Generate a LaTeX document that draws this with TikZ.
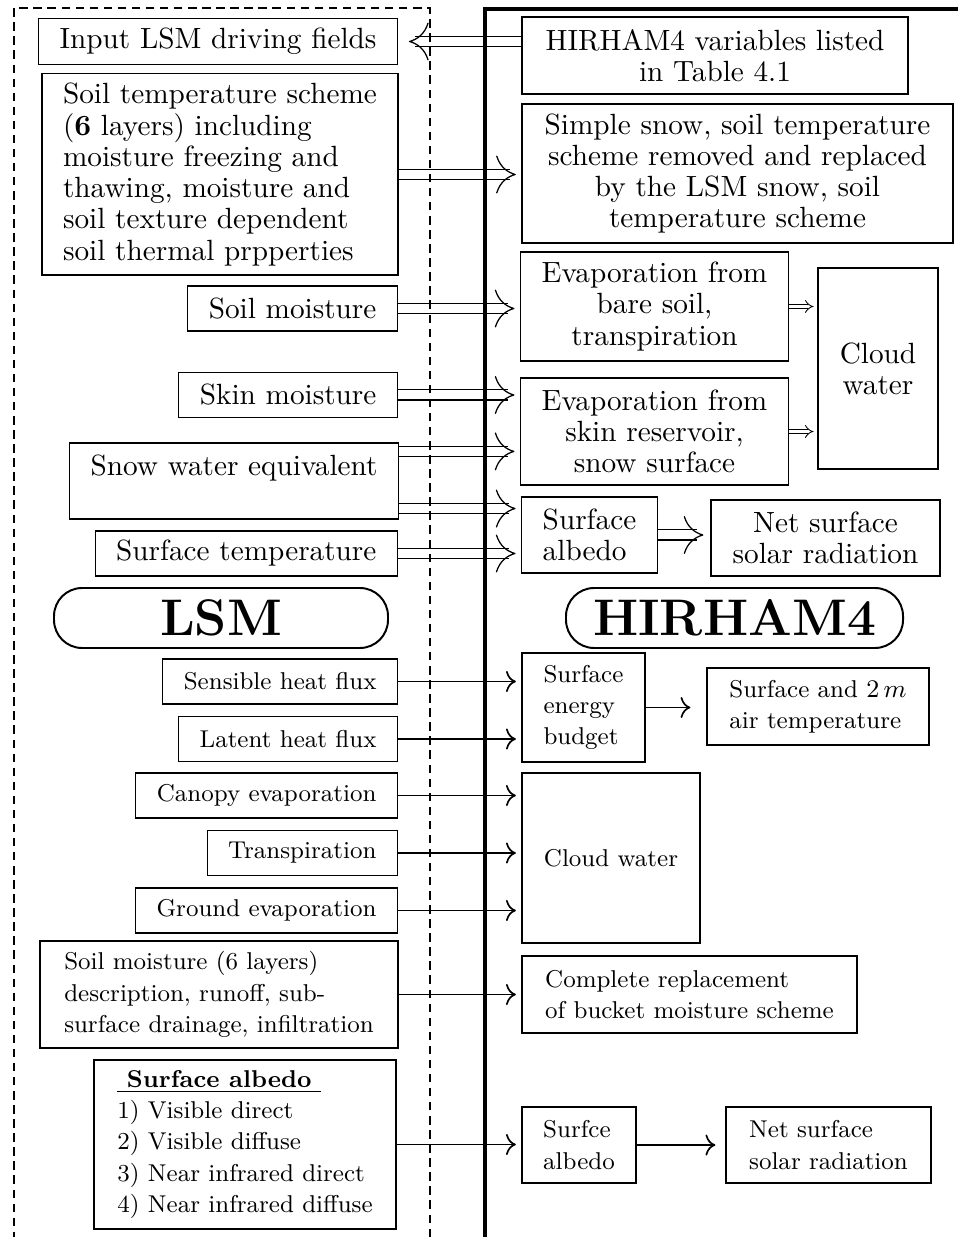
\documentclass[tikz,border=0pt]{standalone}
\usetikzlibrary{arrows.meta}
\tikzset{sz/.style 2 args={minimum width=#1*0.0125cm, minimum height=#2*0.0125cm}}
\begin{document}
\begin{tikzpicture}[
      x=0.0125cm, y=-0.0125cm,
      every node/.style={draw, rectangle, inner xsep=0.2625cm, line width=0.4pt},
      hi/.style={font=\fontsize{10.4}{11.1}\selectfont},
      lo/.style={font=\fontsize{8.65}{11.1}\selectfont},
      lbox/.style={anchor=east, minimum height=0.5625cm},
      tag/.style={rounded corners=10pt, line width=0.7pt, font=\fontsize{18.3}{20}\selectfont\bfseries},
      dbl/.style={line width=0.45pt, dash pattern=on 0pt off 50cm, -{To[length=7pt,width=13.5pt]}, shorten >=#1,
        preaction={draw, solid, double, double distance=3.2pt, -, shorten >=#1+2.2pt}},
      dbl/.default=2pt,
      sdbl/.style={double, double distance=1.3pt, line width=0.3pt, -{Implies}, shorten >=1.4pt},
      sgl/.style={line width=0.6pt, -{To[length=3.5pt,width=7.5pt]}, shorten >=2pt}
      ]
    \useasboundingbox (0,0) rectangle (958,1237);

    % LSM side
    \node[hi, lbox] (input) at (398,41.5) {Input LSM driving fields};
    \node[hi, sz={356}{201}, align=left] (soiltemp) at (220,174.5) {Soil temperature scheme\\(\textbf{6} layers) including\\moisture freezing and\\thawing, moisture and\\soil texture dependent\\soil thermal prpperties};
    \node[hi, lbox] (soilmoist) at (398,308.5) {Soil moisture};
    \node[hi, lbox] (skin) at (398,395) {Skin moisture};
    \node[hi, sz={328}{76}, align=center] (snow) at (234,481) {Snow water equivalent\\\mbox{}};
    \node[hi, lbox] (surftemp) at (398,553.5) {Surface temperature};
    \node[tag, sz={334}{60}] (lsm) at (221,618) {LSM};
    \node[lo, lbox] (sensible) at (398,681.5) {Sensible heat flux};
    \node[lo, lbox] (latent) at (398,739) {Latent heat flux};
    \node[lo, lbox] (canopy) at (398,795.5) {Canopy evaporation};
    \node[lo, lbox] (transp) at (398,853) {Transpiration};
    \node[lo, lbox] (ground) at (398,910.5) {Ground evaporation};
    \node[lo, sz={358}{107}, align=left] (soilmoistsix) at (219,994.5) {Soil moisture (6 layers)\\description, runoff, sub-\\surface drainage, infiltration};
    \node[lo, sz={302}{169}, align=left] (albedolist) at (245,1144.5) {\underline{\textbf{\ Surface albedo\ }}\\1) Visible direct\\2) Visible diffuse\\3) Near infrared direct\\4) Near infrared diffuse};

    % HIRHAM4 side
    \node[hi, sz={386}{77}, align=center] (vars) at (715,55.5) {HIRHAM4 variables listed\\in Table 4.1};
    \node[hi, sz={431}{139}, align=center] (simplesnow) at (737.5,173.5) {Simple snow, soil temperature\\scheme removed and replaced\\by the LSM snow, soil\\temperature scheme};
    \node[hi, sz={265}{109}, align=center] (evapsoil) at (654.5,306.5) {Evaporation from\\bare soil,\\transpiration};
    \node[hi, sz={120}{201}, align=center] (cloudtop) at (878,368.5) {Cloud\\water};
    \node[hi, sz={265}{107}, align=center] (evapskin) at (654.5,431.5) {Evaporation from\\skin reservoir,\\snow surface};
    \node[hi, sz={135}{76}, align=left] (albedoup) at (589.5,535) {Surface\\albedo};
    \node[hi, sz={229}{76}, align=center] (netup) at (825.5,538) {Net surface\\solar radiation};
    \node[tag, sz={337}{60}] (hirham) at (734.5,618) {HIRHAM4};
    \node[lo, sz={123}{109}, align=left] (energy) at (583.5,707.5) {Surface\\energy\\budget};
    \node[lo, sz={222}{77}, align=left] (tair) at (818,706.5) {Surface and $2\,m$\\air temperature};
    \node[lo, sz={178}{170}, align=left] (cloudlow) at (611,858) {Cloud water};
    \node[lo, sz={335}{77}, align=left] (replace) at (689.5,994.5) {Complete replacement\\of bucket moisture scheme};
    \node[lo, sz={114}{76}, align=left] (albedolow) at (579,1145) {Surfce\\albedo};
    \node[lo, sz={205}{76}, align=left] (netlow) at (828.5,1145) {Net surface\\solar radiation};

    \coordinate (snowa) at ([yshift=-0.1125cm]snow.north east);
    \coordinate (snowb) at ([yshift=0.1375cm]snow.south east);

    % coupling arrows
    \draw[dbl=3.9pt] (vars.west |- input.east) -- (input.east);
    \draw[dbl] (soiltemp.east) -- (simplesnow.west |- soiltemp.east);
    \draw[dbl] (soilmoist.east) -- (evapsoil.west |- soilmoist.east);
    \draw[dbl] (skin.east) -- (evapskin.west |- skin.east);
    \draw[dbl] (snowa) -- (evapskin.west |- snowa);
    \draw[dbl] (snowb) -- (albedoup.west |- snowb);
    \draw[dbl] (surftemp.east) -- (albedoup.west |- surftemp.east);
    \draw[dbl=2.5pt] (albedoup.east) -- (netup.west |- albedoup.east);
    \draw[sdbl] (evapsoil.east) -- (cloudtop.west |- evapsoil.east);
    \draw[sdbl] (evapskin.east) -- (cloudtop.west |- evapskin.east);

    \draw[sgl] (sensible.east) -- (energy.west |- sensible.east);
    \draw[sgl] (latent.east) -- (energy.west |- latent.east);
    \draw[sgl, shorten >=5.7pt] (energy.east) -- (tair.west |- energy.east);
    \draw[sgl] (canopy.east) -- (cloudlow.west |- canopy.east);
    \draw[sgl] (transp.east) -- (cloudlow.west |- transp.east);
    \draw[sgl] (ground.east) -- (cloudlow.west |- ground.east);
    \draw[sgl] (soilmoistsix.east) -- (replace.west |- soilmoistsix.east);
    \draw[sgl] (albedolist.east) -- (albedolow.west |- albedolist.east);
    \draw[sgl, shorten >=3.6pt] (albedolow.east) -- (netlow.west |- albedolow.east);

    % model frames
    \draw[line width=0.9pt, dash pattern=on 3pt off 2pt] (430,1237) -- (430,8) -- (14,8) -- (14,1237);
    \draw[line width=1.1pt] (485,1237) -- (485,9) -- (958,9);
\end{tikzpicture}
\end{document}
